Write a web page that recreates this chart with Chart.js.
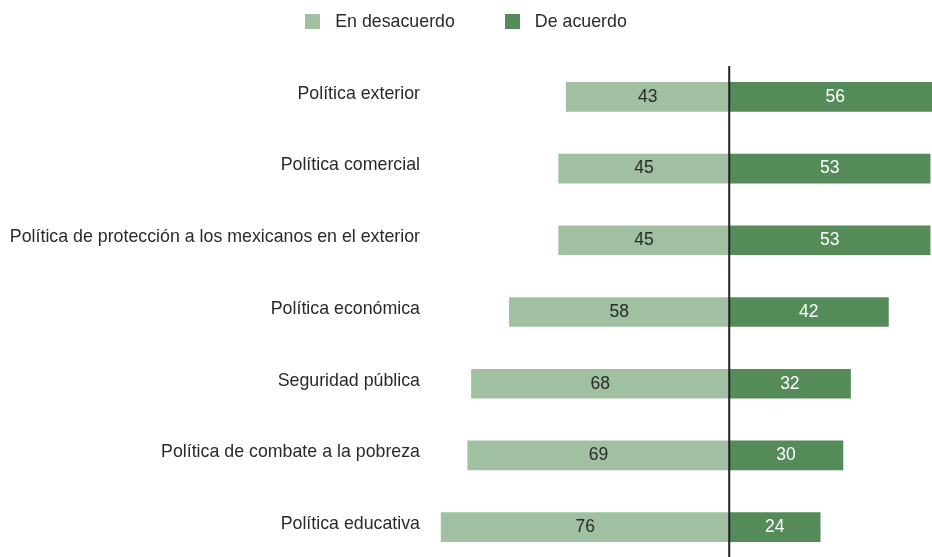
<!DOCTYPE html>
<html>
<head>
<meta charset="utf-8">
<script src="https://cdn.jsdelivr.net/npm/chart.js@4"></script>
<style>
  html, body { margin: 0; padding: 0; background: #fff; overflow: hidden; }
  #wrap { position: relative; width: 932px; height: 563px; }
  #legend { position: absolute; top: 10px; left: 0; width: 932px; display: flex; justify-content: center;
            font: 17.8px "Liberation Sans", Arial, sans-serif; color: #2a2a2a; line-height: 22px; }
  #legend span { display: inline-flex; align-items: center; }
  #legend span + span { margin-left: 50px; }
  #legend i { display: inline-block; width: 15px; height: 15px; margin-right: 15px; }
</style>
</head>
<body>
<div id="wrap">
  <div id="legend"></div>
  <canvas id="chart" width="932" height="563"></canvas>
</div>
<script>
const FONT = '"Liberation Sans", Arial, sans-serif';

const categories = [
  'Política exterior',
  'Política comercial',
  'Política de protección a los mexicanos en el exterior',
  'Política económica',
  'Seguridad pública',
  'Política de combate a la pobreza',
  'Política educativa'
];
const desacuerdo = [43, 45, 45, 58, 68, 69, 76];
const acuerdo = [56, 53, 53, 42, 32, 30, 24];

const series = [
  { label: 'En desacuerdo', color: '#a1c0a1', text: '#2a2a2a', values: desacuerdo.map(v => -v) },
  { label: 'De acuerdo', color: '#558a59', text: '#ffffff', values: acuerdo }
];

const legend = document.getElementById('legend');
series.forEach(s => {
  const item = document.createElement('span');
  item.innerHTML = `<i style="background:${s.color}"></i>${s.label}`;
  legend.appendChild(item);
});

// numbers inside each bar plus the zero line
const barLabels = {
  id: 'barLabels',
  afterDatasetsDraw(chart) {
    const ctx = chart.ctx;
    const area = chart.chartArea;
    ctx.save();
    ctx.font = '17.5px ' + FONT;
    ctx.textAlign = 'center';
    ctx.textBaseline = 'middle';
    chart.data.datasets.forEach((ds, di) => {
      chart.getDatasetMeta(di).data.forEach((bar, i) => {
        ctx.fillStyle = series[di].text;
        ctx.fillText(Math.abs(ds.data[i]), (bar.x + bar.base) / 2, bar.y);
      });
    });
    const x0 = chart.scales.x.getPixelForValue(0);
    ctx.strokeStyle = '#222';
    ctx.lineWidth = 2;
    ctx.beginPath();
    ctx.moveTo(x0, 66);
    ctx.lineTo(x0, area.bottom);
    ctx.stroke();
    ctx.restore();
  }
};

new Chart(document.getElementById('chart'), {
  type: 'bar',
  data: {
    labels: categories,
    datasets: series.map(s => ({
      label: s.label,
      data: s.values,
      backgroundColor: s.color,
      barThickness: 29
    }))
  },
  options: {
    indexAxis: 'y',
    responsive: false,
    animation: false,
    layout: { padding: { top: 61, right: 0, bottom: 0, left: 0 } },
    plugins: { legend: { display: false }, tooltip: { enabled: false } },
    scales: {
      x: { stacked: true, min: -80, max: 53.5, display: false },
      y: {
        stacked: true,
        grid: { display: false, drawTicks: false },
        border: { display: false },
        ticks: { color: '#2a2a2a', padding: 6, labelOffset: -3, font: { family: FONT, size: 17.8 } },
        afterFit(scale) {
          scale.width = 426;
          scale.paddingTop = 0;
          scale.paddingBottom = 0;
        }
      }
    }
  },
  plugins: [barLabels]
});
</script>
</body>
</html>
